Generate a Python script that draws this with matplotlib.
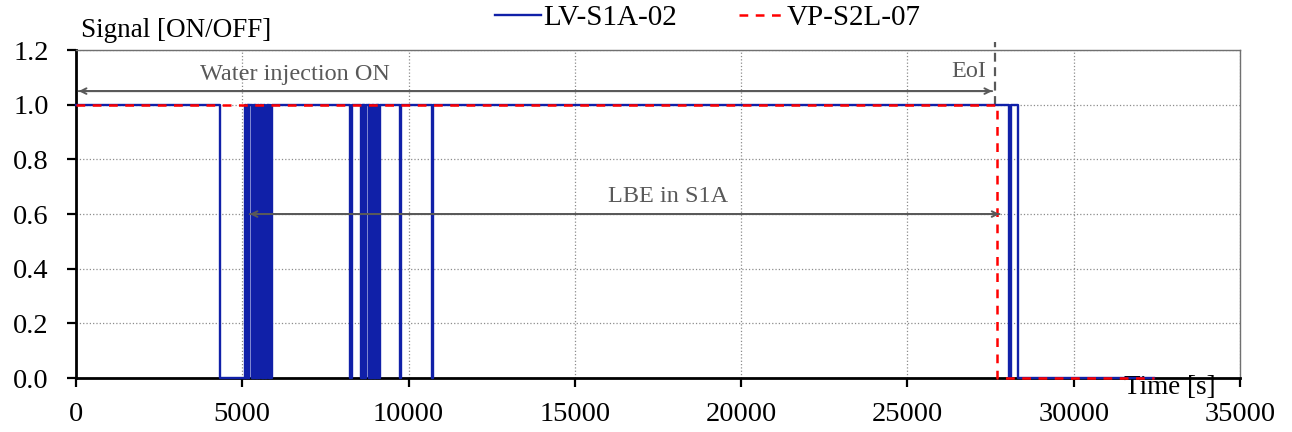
import numpy as np
import matplotlib
matplotlib.use("Agg")
import matplotlib.pyplot as plt

plt.rcParams["font.family"] = ["Liberation Serif", "DejaVu Serif"]

# ---- data ----
t_end = 32400.0

# LV-S1A-02: signal is 1 except inside these OFF windows
lv_off_start = [4330, 5110, 5160, 5200, 5290, 5330, 5370, 5410, 5450, 5490,
                5590, 5630, 5670, 5695, 5800, 5840,
                8245, 8575, 8615, 8655, 8690, 8800, 8840, 8880, 8920, 8960,
                9000, 9040, 9080, 9110, 9745, 10700, 28050, 28310]
lv_off_end = [5085, 5140, 5180, 5215, 5310, 5350, 5390, 5430, 5470, 5525,
              5610, 5650, 5680, 5730, 5820, 5880,
              8300, 8595, 8635, 8675, 8730, 8820, 8860, 8900, 8940, 8980,
              9020, 9060, 9095, 9135, 9785, 10720, 28110, t_end]

# VP-S2L-07: single switch-off
vp_off_time = 27680

eoi_time = 27630
lbe_start, lbe_end = 5140, 27850


def step_series(off_start, off_end, t_stop):
    t = [0.0]
    s = [1.0]
    for a, b in zip(off_start, off_end):
        t += [a, a, b, b]
        s += [1.0, 0.0, 0.0, 1.0 if b < t_stop else 0.0]
    if t[-1] < t_stop:
        t.append(t_stop)
        s.append(s[-1])
    return np.array(t), np.array(s)


lv_t, lv_s = step_series(lv_off_start, lv_off_end, t_end)
vp_t, vp_s = step_series([vp_off_time], [t_end], t_end)

gray = "#595959"

fig = plt.figure(figsize=(12.92, 4.32), dpi=100)
ax = fig.add_axes([0.0588, 0.125, 0.901, 0.759])

ax.plot(lv_t, lv_s, color="#1020a8", lw=1.7, label="LV-S1A-02", zorder=6, clip_on=False)
ax.plot(vp_t, vp_s, color="red", lw=1.8, ls=(0, (3.5, 3)), label="VP-S2L-07",
        zorder=7, clip_on=False)

ax.set_xlim(0, 35000)
ax.set_ylim(0, 1.2)
ax.set_xticks(np.arange(0, 35001, 5000))
ax.set_yticks(np.arange(0, 1.21, 0.2))
ax.yaxis.set_major_formatter(matplotlib.ticker.FormatStrFormatter("%.1f"))
ax.tick_params(axis="both", labelsize=20.5, length=6.5, width=1.6, direction="out")
ax.tick_params(axis="x", pad=11)
ax.tick_params(axis="y", pad=13)
ax.grid(True, ls=":", color="#8c8c8c", lw=0.9)
ax.set_axisbelow(True)

for side in ("left", "bottom"):
    ax.spines[side].set_linewidth(2.0)
    ax.spines[side].set_color("black")
for side in ("top", "right"):
    ax.spines[side].set_linewidth(1.0)
    ax.spines[side].set_color("#707070")

# annotations
arrow = dict(arrowstyle="->", color=gray, lw=1.4)
ax.annotate("", xy=(0, 1.05), xytext=(eoi_time, 1.05), arrowprops=arrow, zorder=8)
ax.annotate("", xy=(eoi_time, 1.05), xytext=(0, 1.05), arrowprops=arrow, zorder=8)
ax.text(6580, 1.11, "Water injection ON", color=gray, fontsize=17.5,
        ha="center", va="center")

ax.annotate("", xy=(lbe_start, 0.6), xytext=(lbe_end, 0.6), arrowprops=arrow, zorder=8)
ax.annotate("", xy=(lbe_end, 0.6), xytext=(lbe_start, 0.6), arrowprops=arrow, zorder=8)
ax.text(17800, 0.666, "LBE in S1A", color=gray, fontsize=17.5,
        ha="center", va="center")

ax.plot([eoi_time, eoi_time], [1.0, 1.228], color=gray, lw=1.6,
        ls=(0, (4, 2.5)), clip_on=False, zorder=5)
ax.text(27380, 1.12, "EoI", color=gray, fontsize=17.5, ha="right", va="center")

ax.text(32900, -0.033, "Time [s]", fontsize=19.5, ha="center", va="center")
ax.text(0.004, 1.061, "Signal [ON/OFF]", fontsize=19.5, ha="left", va="center",
        transform=ax.transAxes)

fig.legend(loc="center", bbox_to_anchor=(0.548, 0.958), ncol=2, frameon=False,
           fontsize=21, handlelength=1.55, handletextpad=0.1, columnspacing=2.1)

fig.savefig("out.png", dpi=100)
